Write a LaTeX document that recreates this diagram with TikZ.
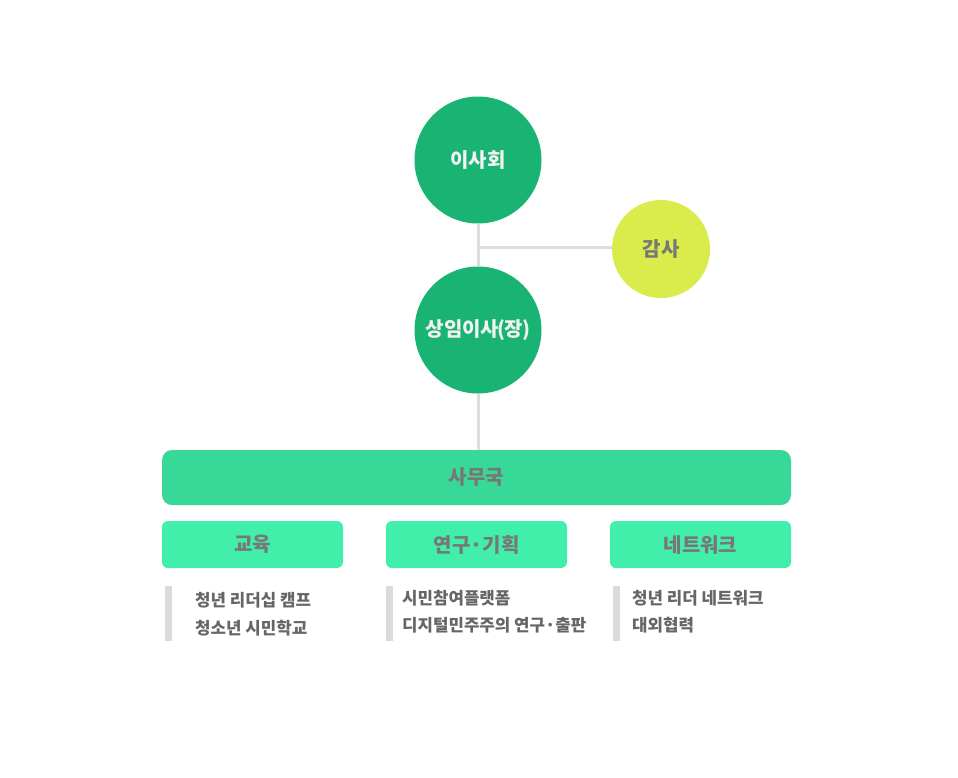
\documentclass[tikz,border=0pt]{standalone}
\usepackage{fontspec}
\newfontfamily\kr{Noto Sans CJK KR}
\definecolor{dgreen}{HTML}{19B374}
\definecolor{lime}{HTML}{D9EC4B}
\definecolor{midgreen}{HTML}{38D898}
\definecolor{lgreen}{HTML}{41EFAA}
\definecolor{lineg}{HTML}{DDDDDD}
\definecolor{txtg}{HTML}{777777}
\definecolor{listg}{HTML}{666666}
\definecolor{barg}{HTML}{DADADA}
\definecolor{offwhite}{HTML}{F2F2F2}
\begin{document}
\begin{tikzpicture}[x=1pt,y=-1pt,
  circ/.style={circle,fill=dgreen,minimum size=127pt,inner sep=0pt,text=offwhite,font=\kr\fontsize{20}{22}\selectfont\bfseries},
  dept/.style={rounded corners=6pt,fill=lgreen,minimum width=181pt,minimum height=47pt,inner sep=0pt,text=txtg,font=\kr\fontsize{20}{22}\selectfont\bfseries},
  item/.style={anchor=west,text=listg,font=\kr\fontsize{16.8}{27.5}\selectfont\bfseries,align=left,inner sep=0pt},
  bar/.style={fill=barg,draw=none},
  conn/.style={draw=lineg,line width=3pt}]
\useasboundingbox (0,0) rectangle (958,777);
\node[circ] (board) at (478,160) {이사회};
\node[circ] (exec) at (478,330) {상임이사\kern-1.5pt(\kern-1pt장\kern-1pt)};
\node[circle,fill=lime,minimum size=98pt,inner sep=0pt,text=txtg,font=\kr\fontsize{20}{22}\selectfont\bfseries] (audit) at (661,249) {감사};
\node[rounded corners=10pt,fill=midgreen,minimum width=629pt,minimum height=55pt,inner sep=0pt,text=txtg,font=\kr\fontsize{20}{22}\selectfont\bfseries] (office) at (476.5,477.5) {사무국};
\coordinate (j) at (478,247);
\draw[conn] (board.south) -- (exec.north);
\draw[conn] (j) -- (j -| audit.west);
\draw[conn] (exec.south) -- (office.north -| exec.south);
\node[dept] (edu) at (252.5,544.5) {교육};
\node[dept] (res) at (476.5,544.5) {연구·기획};
\node[dept] (net) at (700.5,544.5) {네트워크};
\fill[bar] (165,586) rectangle (172,641);
\fill[bar] (386,586) rectangle (393,641);
\fill[bar] (613,586) rectangle (620,641);
\node[item] (eduitems) at (195,614) {청년 리더십 캠프\\청소년 시민학교};
\node[item] (resitems) at (402,611.5) {시민참여플랫폼\\디지털민주주의 연구·출판};
\node[item] (netitems) at (632,611.5) {청년 리더 네트워크\\대외협력};
\end{tikzpicture}
\end{document}
